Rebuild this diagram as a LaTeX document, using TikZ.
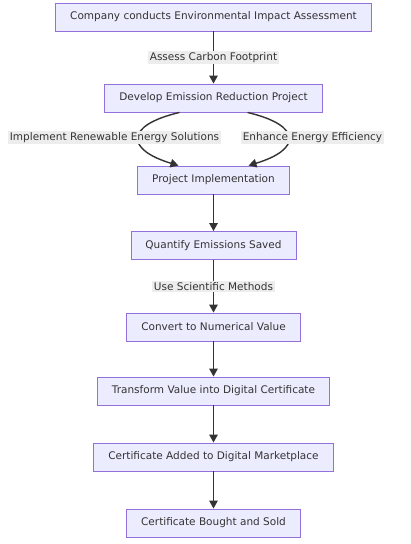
\documentclass[tikz,border=0pt]{standalone}
\usepackage{fontspec}
\setmainfont{DejaVu Sans}
\usepackage{xcolor}
\usetikzlibrary{arrows.meta,positioning}

\definecolor{boxfill}{HTML}{ECECFF}
\definecolor{boxline}{HTML}{9370DB}
\definecolor{ink}{HTML}{333333}
\definecolor{labelbg}{HTML}{EDEDED}

\begin{document}
\begin{tikzpicture}[
    x=1pt, y=-1pt,
    font=\fontsize{10.5}{12}\selectfont,
    box/.style={rectangle, draw=boxline, fill=boxfill, text=ink, line width=0.9pt, minimum height=28pt, inner xsep=14.5pt, align=center},
    elabel/.style={fill=labelbg, text=ink, inner sep=1.5pt},
    arrow/.style={draw=ink, line width=1.4pt, -{Triangle[length=8pt,width=8.5pt]}}
]
    \useasboundingbox (0,0) rectangle (411,544);

    \node[box] (eia) at (213.5,17) {Company conducts Environmental Impact Assessment};
    \node[box] (develop) at (213.5,98) {Develop Emission Reduction Project};
    \node[box] (impl) at (213.5,180) {Project Implementation};
    \node[box] (quantify) at (213.5,245.5) {Quantify Emissions Saved};
    \node[box] (convert) at (213.5,327) {Convert to Numerical Value};
    \node[box] (transform) at (213.5,391) {Transform Value into Digital Certificate};
    \node[box] (market) at (213.5,457) {Certificate Added to Digital Marketplace};
    \node[box] (sold) at (213.5,523) {Certificate Bought and Sold};

    \draw[arrow] (eia) -- node[elabel] {Assess Carbon Footprint} (develop);
    \draw[arrow] ([xshift=-34pt]develop.south) .. controls +(-55,13) and +(-53,-16) .. ([xshift=-35pt]impl.north)
        node[elabel, pos=.5, xshift=-24pt] {Implement Renewable Energy Solutions};
    \draw[arrow] ([xshift=34pt]develop.south) .. controls +(55,13) and +(53,-16) .. ([xshift=35pt]impl.north)
        node[elabel, pos=.5, xshift=24pt] {Enhance Energy Efficiency};
    \draw[arrow] (impl) -- (quantify);
    \draw[arrow] (quantify) -- node[elabel] {Use Scientific Methods} (convert);
    \draw[arrow] (convert) -- (transform);
    \draw[arrow] (transform) -- (market);
    \draw[arrow] (market) -- (sold);
\end{tikzpicture}
\end{document}
